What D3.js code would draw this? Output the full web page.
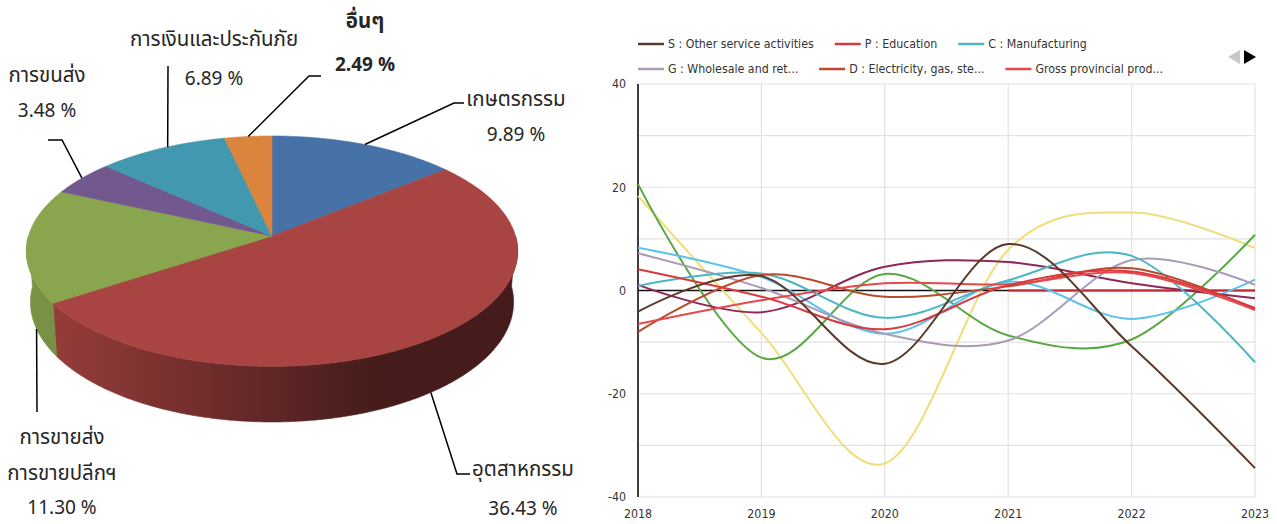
<!DOCTYPE html>
<html>
<head>
<meta charset="utf-8">
<script src="https://cdn.jsdelivr.net/npm/d3@7"></script>
<style>
body { margin: 0; background: #fff; }
svg { display: block; }
.pie-label { font-family: Tahoma, "Noto Sans Thai", "Noto Sans", sans-serif; font-size: 19px; fill: #262626; }
.pie-label.thai { font-size: 20.5px; }
.chart-text { font-family: "Liberation Sans Narrow", "DejaVu Sans Condensed", sans-serif; font-size: 12.3px; fill: #333; }
</style>
</head>
<body>
<svg id="chart" width="1277" height="524"></svg>
<script>
// ---- pie data ----
var sectors = [['เกษตรกรรม'], ['อุตสาหกรรม'], ['การขายส่ง', 'การขายปลีกฯ'], ['การขนส่ง'], ['การเงินและประกันภัย'], ['อื่นๆ']];
var shares = [9.89, 36.43, 11.30, 3.48, 6.89, 2.49];
var pieColors = ['#4672a8', '#a84442', '#89a54e', '#71588f', '#4198af', '#db843d'];

// ---- line chart data ----
var years = [2018, 2019, 2020, 2021, 2022, 2023];
var sOther = [-4.1, 2.8, -14.2, 9.0, -10.8, -34.4];
var pEducation = [4.1, -1.2, -7.5, 1.0, 3.7, -3.4];
var cManufacturing = [0.9, 3.3, -5.3, 2.0, 6.7, -13.9];
var gWholesale = [7.2, 0.5, -8.4, -9.7, 5.9, 1.1];
var dElectricity = [-8.0, 3.0, -1.2, 0.8, 4.3, -3.6];
var grossProvincial = [-6.5, -1.9, 1.4, 1.2, 3.4, -3.8];
// series on the second legend page (not shown)
var page2a = [18.3, -8.2, -33.5, 7.9, 15.1, 8.2];
var page2b = [20.6, -13.0, 3.2, -8.7, -9.5, 10.8];
var page2c = [8.3, 2.6, -8.4, 1.7, -5.5, 2.1];
var page2d = [1.1, -4.2, 4.6, 5.5, 1.4, -1.5];
var page2e = [null, null, null, 0, 0, 0];

var legendNames = ['S : Other service activities', 'P : Education', 'C : Manufacturing',
  'G : Wholesale and ret...', 'D : Electricity, gas, ste...', 'Gross provincial prod...'];
var yTicks = [-40, -20, 0, 20, 40];

var series = [
  { values: page2e, color: '#c42530' },
  { values: page2a, color: '#f0de7a' },
  { values: page2b, color: '#5aa845' },
  { values: page2c, color: '#5bc2ec' },
  { values: page2d, color: '#8e2856' },
  { values: gWholesale, color: '#a99bb5' },
  { values: cManufacturing, color: '#4db6c4' },
  { values: dElectricity, color: '#b84a2e' },
  { values: grossProvincial, color: '#e8474c' },
  { values: pEducation, color: '#d93a3f' },
  { values: sOther, color: '#5b3a29' }
];
var legendColors = ['#5b3a29', '#d93a3f', '#4db6c4', '#a99bb5', '#b84a2e', '#e8474c'];

var svg = d3.select('#chart');

// =================== 3D pie ===================
var cx = 272, cy = 236, R = 243.5, H = 58;
var tilt = 27.7 * Math.PI / 180, sn = Math.sin(tilt), cs = Math.cos(tilt), D = 1637;

// project a point of the disc (angle from 12 o'clock, clockwise) to the screen
function proj(theta, r, yh) {
  var X = r * Math.sin(theta), Z = -r * Math.cos(theta);
  var k = D / (D - (Z * cs + yh * sn));
  return [cx + X * k, cy + (Z * sn - yh * cs) * k];
}

var arcs = d3.pie().sort(null).value(function(d){ return d; })(shares);
var step = Math.PI / 360;

function arcPoints(a0, a1, yh) {
  var pts = [];
  var n = Math.max(2, Math.ceil((a1 - a0) / step));
  for (var i = 0; i <= n; i++) pts.push(proj(a0 + (a1 - a0) * i / n, R, yh));
  return pts;
}

// side shading goes darker to the right
function shade(x) {
  return Math.max(0.41, Math.min(0.88, 0.8 - (x - 115) * 0.00148));
}
var defs = svg.append('defs');
pieColors.forEach(function(col, i) {
  var g = defs.append('linearGradient').attr('id', 'side' + i)
    .attr('gradientUnits', 'userSpaceOnUse')
    .attr('x1', cx - R).attr('x2', cx + R).attr('y1', 0).attr('y2', 0);
  var base = d3.rgb(col);
  d3.range(0, 1.0001, 0.05).forEach(function(t) {
    var f = shade(cx - R + 2 * R * t);
    g.append('stop').attr('offset', t)
      .attr('stop-color', d3.rgb(base.r * f, base.g * f, base.b * f).formatHex());
  });
});

var pie = svg.append('g');
var visA = Math.PI / 2, visB = Math.PI * 1.5;
arcs.forEach(function(a, i) {
  var a0 = Math.max(a.startAngle, visA), a1 = Math.min(a.endAngle, visB);
  if (a1 <= a0) return;
  var top = arcPoints(a0, a1, 0), bottom = arcPoints(a0, a1, -H).reverse();
  pie.append('path')
    .attr('d', d3.line()(top.concat(bottom)) + 'Z')
    .attr('fill', 'url(#side' + i + ')')
    .attr('stroke', 'url(#side' + i + ')').attr('stroke-width', 0.6);
});
arcs.forEach(function(a, i) {
  var pts = [[cx, cy]].concat(arcPoints(a.startAngle, a.endAngle, 0));
  pie.append('path')
    .attr('d', d3.line()(pts) + 'Z')
    .attr('fill', pieColors[i])
    .attr('stroke', pieColors[i]).attr('stroke-width', 0.6);
});

// labels and leader lines
var labelLayout = [
  { x: 516, ys: [106, 141], t: 0.5, rim: 0, path: [[454, 103], [464, 103]] },
  { x: 523, ys: [476, 515], t: 0.5, rim: 1, path: [[457, 474], [470, 474]] },
  { x: 62, ys: [444, 480, 514], t: 0.23, rim: 1, path: [[37, 412]] },
  { x: 47, ys: [82, 117], t: 0.5, rim: 0, path: [[62, 140], [48, 140]] },
  { x: 214, ys: [46, 85], t: 0.55, rim: 0, path: [[168, 66]] },
  { x: 365, ys: [28, 71], t: 0.5, rim: 0, bold: true, path: [[309, 76], [321, 76]] }
];
var labels = svg.append('g');
arcs.forEach(function(a, i) {
  var L = labelLayout[i];
  var ang = a.startAngle + (a.endAngle - a.startAngle) * L.t;
  var start = proj(ang, R, L.rim ? -H : 0);
  labels.append('path')
    .attr('d', d3.line()([start].concat(L.path)))
    .attr('fill', 'none').attr('stroke', '#000').attr('stroke-width', 1.5);
  var lines = sectors[i].concat([shares[i].toFixed(2) + ' %']);
  lines.forEach(function(txt, j) {
    labels.append('text')
      .attr('class', j < sectors[i].length ? 'pie-label thai' : 'pie-label')
      .attr('x', L.x).attr('y', L.ys[j])
      .attr('text-anchor', 'middle')
      .style('font-weight', L.bold ? 'bold' : null)
      .text(txt);
  });
});

// =================== line chart ===================
var x = d3.scaleLinear().domain([2018, 2023]).range([638, 1255]);
var y = d3.scaleLinear().domain([-40, 40]).range([497, 84]);
var plot = svg.append('g');

plot.selectAll('line.hgrid').data(d3.range(-40, 41, 10)).enter().append('line')
  .attr('x1', x(2018)).attr('x2', x(2023))
  .attr('y1', function(d){ return y(d); }).attr('y2', function(d){ return y(d); })
  .attr('stroke', '#e2e2e2').attr('stroke-width', 1.2);
plot.selectAll('line.vgrid').data(years).enter().append('line')
  .attr('x1', function(d){ return x(d); }).attr('x2', function(d){ return x(d); })
  .attr('y1', y(40)).attr('y2', y(-40))
  .attr('stroke', '#e2e2e2').attr('stroke-width', 1.2);

// zero line and axis line
plot.append('line').attr('x1', x(2018)).attr('x2', x(2023)).attr('y1', y(0)).attr('y2', y(0))
  .attr('stroke', '#111').attr('stroke-width', 1.6);
plot.append('line').attr('x1', x(2018)).attr('x2', x(2018)).attr('y1', y(40)).attr('y2', y(-40))
  .attr('stroke', '#111').attr('stroke-width', 1.6);

var line = d3.line()
  .defined(function(d){ return d[1] != null; })
  .x(function(d){ return x(d[0]); })
  .y(function(d){ return y(d[1]); })
  .curve(d3.curveCardinal);

plot.selectAll('path.series').data(series).enter().append('path')
  .attr('d', function(s){ return line(years.map(function(yr, i){ return [yr, s.values[i]]; })); })
  .attr('fill', 'none')
  .attr('stroke', function(s){ return s.color; })
  .attr('stroke-width', 2);

plot.selectAll('text.ytick').data(yTicks).enter().append('text')
  .attr('class', 'chart-text')
  .attr('x', 626).attr('y', function(d){ return y(d); })
  .attr('dy', '0.35em').attr('text-anchor', 'end')
  .text(function(d){ return d; });
plot.selectAll('text.xtick').data(years).enter().append('text')
  .attr('class', 'chart-text')
  .attr('x', function(d){ return x(d); }).attr('y', 518)
  .attr('text-anchor', 'middle')
  .text(function(d){ return d; });

// legend, flowed in two rows of three
var legend = svg.append('g');
[0, 1].forEach(function(row) {
  var lx = 638;
  for (var c = 0; c < 3; c++) {
    var i = row * 3 + c;
    var ly = row ? 69 : 44;
    legend.append('line').attr('x1', lx).attr('x2', lx + 26).attr('y1', ly).attr('y2', ly)
      .attr('stroke', legendColors[i]).attr('stroke-width', 2.5);
    var t = legend.append('text').attr('class', 'chart-text')
      .attr('x', lx + 30).attr('y', ly).attr('dy', '0.35em')
      .text(legendNames[i]);
    lx += 30 + t.node().getComputedTextLength() + 21;
  }
});
legend.append('path').attr('d', 'M1240,50L1228,57L1240,64Z').attr('fill', '#c8c8c8');
legend.append('path').attr('d', 'M1244,50L1256,57L1244,64Z').attr('fill', '#000');
</script>
</body>
</html>
